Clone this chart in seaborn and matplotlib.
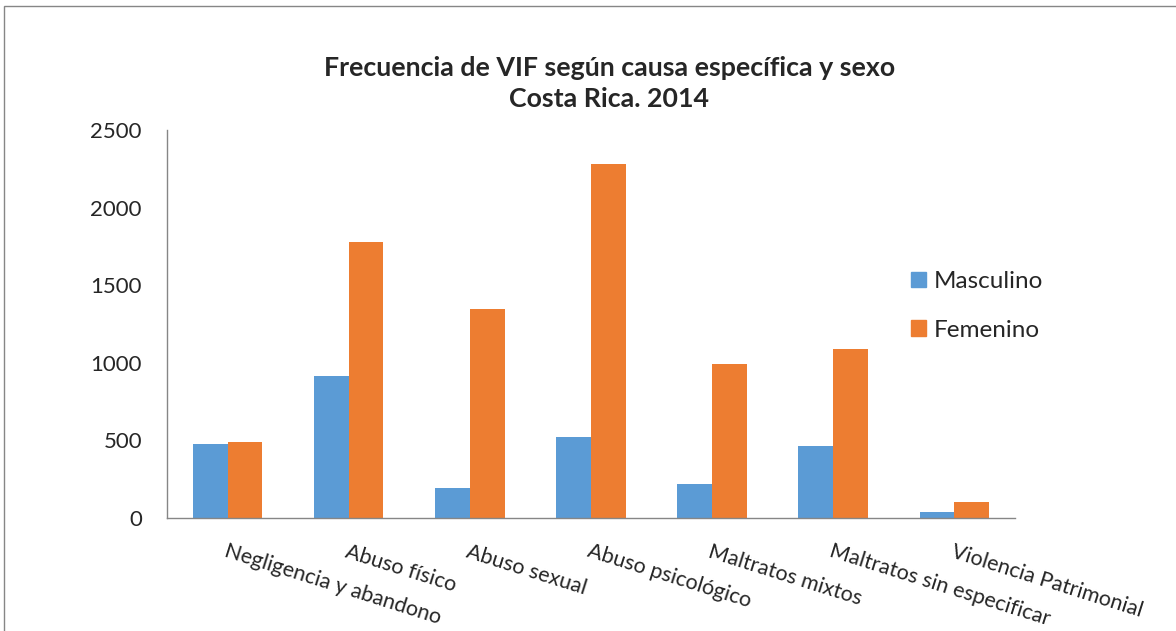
import pandas as pd
import matplotlib.pyplot as plt
import matplotlib.patches as mpatches
import seaborn as sns

# Datos
causas = ["Negligencia y abandono", "Abuso físico", "Abuso sexual",
          "Abuso psicológico", "Maltratos mixtos", "Maltratos sin especificar",
          "Violencia Patrimonial"]
masculino = [475, 918, 192, 523, 222, 466, 40]
femenino = [490, 1778, 1349, 2279, 990, 1087, 105]
sexos = ["Masculino", "Femenino"]
colores = ["#5B9BD5", "#ED7D31"]
titulo = "Frecuencia de VIF según causa específica y sexo\nCosta Rica. 2014"
y_ticks = [0, 500, 1000, 1500, 2000, 2500]


def build_frame():
    """
    Long-format table for seaborn.
    """
    df = pd.DataFrame({"causa": causas, "Masculino": masculino, "Femenino": femenino})
    return df.melt(id_vars="causa", value_vars=sexos, var_name="sexo", value_name="frecuencia")


def main():
    sns.set_style("white")
    plt.rcParams['font.family'] = ['Lato', 'DejaVu Sans']

    df = build_frame()

    fig = plt.figure(figsize=(11.76, 6.31), dpi=100)
    ax = fig.add_axes([0.142, 0.179, 0.721, 0.615])

    sns.barplot(data=df, x="causa", y="frecuencia", hue="sexo", hue_order=sexos,
                palette=colores, width=0.573, saturation=1, linewidth=0, ax=ax, legend=True)

    ax.set_ylim(0, 2500)
    ax.set_xlim(-0.5, len(causas) - 0.5)
    ax.set_yticks(y_ticks)
    ax.set_yticklabels([str(t) for t in y_ticks], fontsize=16)
    ax.set_xlabel("")
    ax.set_ylabel("")

    # x ticks at category boundaries, labels at centres
    ax.set_xticks([i - 0.5 for i in range(len(causas) + 1)])
    ax.set_xticklabels([])
    ax.tick_params(axis="x", direction="out", length=6, color="#868686", width=1)
    ax.tick_params(axis="y", direction="out", length=6, color="#868686", width=1, pad=12)
    for i, causa in enumerate(causas):
        ax.text(i, -150, causa, rotation=-17.5, rotation_mode="anchor",
                ha="left", va="top", fontsize=15.5)

    for side in ["top", "right"]:
        ax.spines[side].set_visible(False)
    for side in ["left", "bottom"]:
        ax.spines[side].set_color("#868686")
        ax.spines[side].set_linewidth(1)

    ax.legend_.remove()
    handles = [mpatches.Patch(color=c, label=s) for c, s in zip(colores, sexos)]
    fig.legend(handles=handles, loc="upper left", bbox_to_anchor=(0.7747, 0.570),
               frameon=False, fontsize=17.5, handlelength=0.6, handleheight=0.6,
               handletextpad=0.35, labelspacing=1.12, borderpad=0, borderaxespad=0)

    fig.text(0.518, 0.911, titulo, ha="center", va="top", fontsize=19.3,
             fontweight="bold", linespacing=1.33)

    # marco exterior del grafico
    fig.patches.append(mpatches.Rectangle((0.003, -0.1), 1.1, 1.09, transform=fig.transFigure,
                                          fill=False, edgecolor="#868686", linewidth=1))

    fig.savefig("out.png", dpi=100)
    print("chart saved in: out.png")


if __name__ == "__main__":
    main()
